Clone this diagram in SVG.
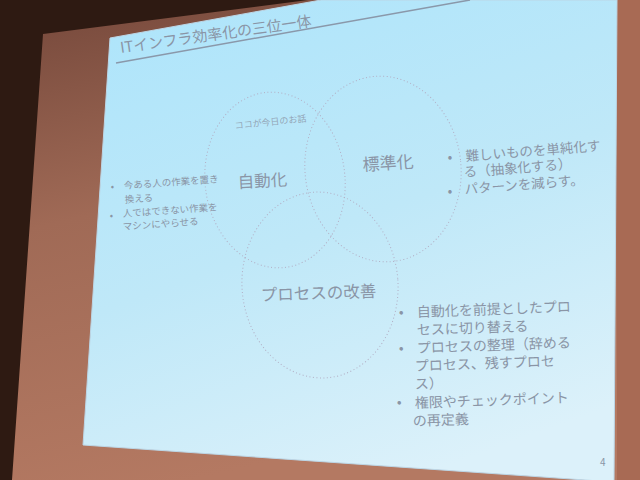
<svg xmlns="http://www.w3.org/2000/svg" width="640" height="480" viewBox="0 0 640 480">
  <defs>
    <linearGradient id="wall" x1="0" y1="0" x2="0.3" y2="1">
      <stop offset="0" stop-color="#74473a"/>
      <stop offset="0.45" stop-color="#a06a56"/>
      <stop offset="1" stop-color="#b47962"/>
    </linearGradient>
    <linearGradient id="screen" x1="0.2" y1="0" x2="0.6" y2="1">
      <stop offset="0" stop-color="#afe5fb"/>
      <stop offset="0.5" stop-color="#bfe8f8"/>
      <stop offset="1" stop-color="#dcf1fa"/>
    </linearGradient>
    <style>
      .t { font-family: "Noto Sans CJK JP", "Noto Sans", sans-serif; fill: #8a95a6; }
      .big { font-size: 16.5px; }
      .sm { font-size: 9.5px; }
      .md { font-size: 13.5px; }
      .bl { font-size: 14px; }
      .ring { fill: none; stroke: #b2aec4; stroke-width: 1; stroke-dasharray: 1 2.5; }
    </style>
  </defs>

  <!-- room: wall and dark corner -->
  <rect x="0" y="0" width="640" height="480" fill="url(#wall)"/>
  <polygon points="0,0 308,0 43,34 12,480 0,480" fill="#2e1a12"/>
  <rect x="617" y="0" width="23" height="480" fill="#a86a54"/>

  <!-- projected slide -->
  <polygon points="110,38 321,0 617,0 614,482 83,445" fill="url(#screen)" stroke="#bcd6e6" stroke-width="1"/>

  <!-- title -->
  <g id="title">
    <text class="t" x="121" y="53" font-size="15" transform="rotate(-8 121 53)">ITインフラ効率化の三位一体</text>
    <line x1="116" y1="63" x2="470" y2="0" stroke="#8a98aa" stroke-width="1.5"/>
  </g>

  <!-- three overlapping circles -->
  <g id="connectors">
    <ellipse class="ring" cx="275" cy="180" rx="70" ry="88" transform="rotate(-6 275 180)"/>
    <ellipse class="ring" cx="383" cy="169" rx="78" ry="93" transform="rotate(-6 383 169)"/>
    <ellipse class="ring" cx="320" cy="285" rx="78" ry="93" transform="rotate(-4 320 285)"/>
  </g>

  <g id="automation">
    <text class="t" x="235" y="129" font-size="9" fill-opacity="0.8" transform="rotate(-6 235 129)">ココが今日のお話</text>
    <text class="t big" x="238" y="188" transform="rotate(-3 238 188)">自動化</text>
  </g>

  <g id="standardization">
    <text class="t" x="363" y="171" font-size="17" transform="rotate(-4 363 171)">標準化</text>
  </g>

  <g id="process">
    <text class="t big" x="261" y="301" transform="rotate(-2 261 301)">プロセスの改善</text>
  </g>

  <!-- notes for automation -->
  <g id="notes-automation" class="t sm">
    <text x="111" y="190" transform="rotate(-4 111 190)">•</text>
    <text x="124" y="189" transform="rotate(-4 124 189)">今ある人の作業を置き</text>
    <text x="125" y="203" transform="rotate(-4 125 203)">換える</text>
    <text x="110" y="219" transform="rotate(-4 110 219)">•</text>
    <text x="123" y="217" transform="rotate(-4 123 217)">人ではできない作業を</text>
    <text x="123" y="230" transform="rotate(-4 123 230)">マシンにやらせる</text>
  </g>

  <!-- notes for standardization -->
  <g id="notes-standardization" class="t md">
    <text x="448" y="162" transform="rotate(-4.5 448 162)">•</text>
    <text x="466" y="161" transform="rotate(-4.5 466 161)">難しいものを単純化す</text>
    <text x="464" y="177" transform="rotate(-4.5 464 177)">る（抽象化する）</text>
    <text x="448" y="196" transform="rotate(-4.5 448 196)">•</text>
    <text x="465" y="194" transform="rotate(-4.5 465 194)">パターンを減らす。</text>
  </g>

  <!-- notes for process -->
  <g id="notes-process" class="t bl">
    <text x="399" y="317" transform="rotate(-2 399 317)">•</text>
    <text x="417" y="317" transform="rotate(-2 417 317)">自動化を前提としたプロ</text>
    <text x="417" y="335" transform="rotate(-2 417 335)">セスに切り替える</text>
    <text x="399" y="353" transform="rotate(-2 399 353)">•</text>
    <text x="417" y="353" transform="rotate(-2 417 353)">プロセスの整理（辞める</text>
    <text x="415" y="371" transform="rotate(-2 415 371)">プロセス、残すプロセ</text>
    <text x="415" y="389" transform="rotate(-2 415 389)">ス）</text>
    <text x="397" y="407" transform="rotate(-2 397 407)">•</text>
    <text x="415" y="408" transform="rotate(-2 415 408)">権限やチェックポイント</text>
    <text x="413" y="426" transform="rotate(-2 413 426)">の再定義</text>
  </g>

  <text class="t" x="600" y="466" font-size="10" fill="#a3aebb">4</text>
</svg>
